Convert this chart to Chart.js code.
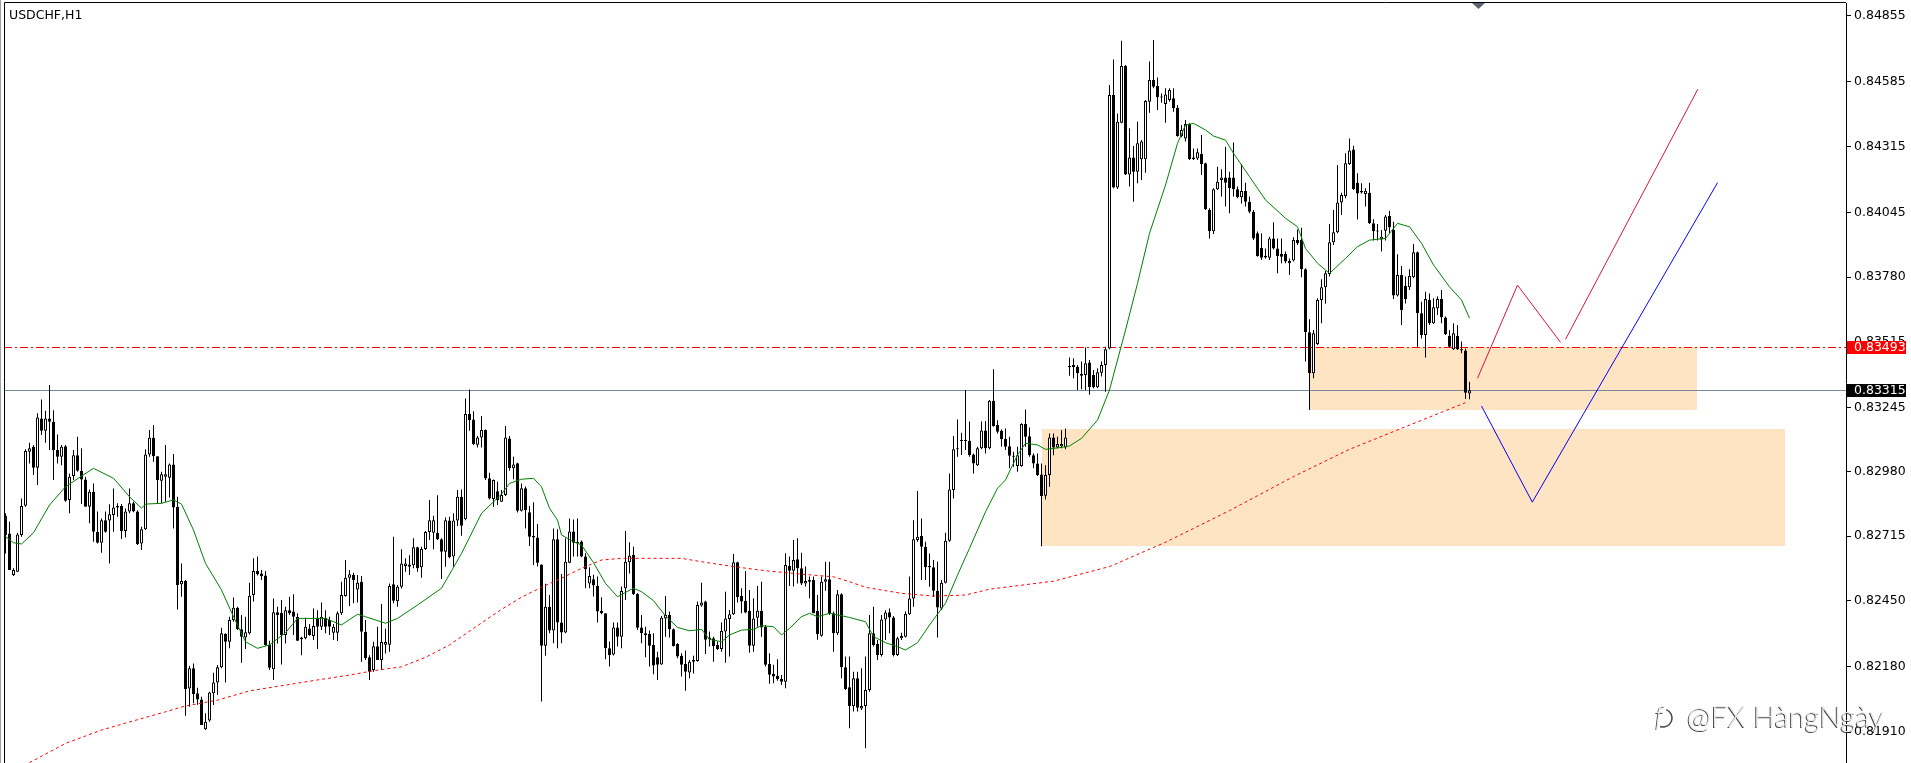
<!DOCTYPE html>
<html>
<head>
<meta charset="utf-8">
<title>USDCHF,H1</title>
<script src="https://cdn.jsdelivr.net/npm/chart.js@4/dist/chart.umd.min.js"></script>
<style>
  html, body { margin: 0; padding: 0; background: #fff; overflow: hidden; }
  canvas { display: block; }
</style>
</head>
<body>
<canvas id="myChart" width="1911" height="763"></canvas>
<script>
// H1 bars, oldest first (one entry per bar)
const opens = [
  0.82799,0.82726,0.82555,0.82569,0.82720,0.82840,0.83062,0.83083,0.82996,0.83199,
  0.83148,0.83199,0.83185,0.83069,0.83042,0.83085,0.82864,0.82962,0.83048,0.82984,
  0.82948,0.82836,0.82898,0.82733,0.82688,0.82781,0.82779,0.82802,0.82833,0.82839,
  0.82736,0.82816,0.82850,0.82816,0.82685,0.82744,0.83051,0.83120,0.83044,0.82943,
  0.82959,0.82955,0.83010,0.82836,0.82517,0.82531,0.82089,0.82172,0.82069,0.82044,
  0.81921,0.81957,0.82069,0.82114,0.82176,0.82313,0.82281,0.82370,0.82421,0.82332,
  0.82299,0.82316,0.82473,0.82572,0.82562,0.82553,0.82268,0.82168,0.82402,0.82400,
  0.82309,0.82411,0.82405,0.82384,0.82291,0.82295,0.82336,0.82305,0.82380,0.82343,
  0.82380,0.82370,0.82318,0.82318,0.82398,0.82469,0.82544,0.82555,0.82496,0.82528,
  0.82322,0.82217,0.82165,0.82263,0.82206,0.82269,0.82269,0.82517,0.82448,0.82507,
  0.82592,0.82599,0.82596,0.82669,0.82587,0.82662,0.82732,0.82729,0.82729,0.82702,
  0.82651,0.82779,0.82631,0.82779,0.82877,0.82785,0.83217,0.83195,0.83091,0.83121,
  0.83151,0.82953,0.82868,0.82900,0.82857,0.82884,0.83117,0.82994,0.83015,0.82820,
  0.82912,0.82813,0.82716,0.82710,0.82599,0.82265,0.82425,0.82327,0.82702,0.82360,
  0.82319,0.82606,0.82734,0.82691,0.82693,0.82631,0.82521,0.82538,0.82510,0.82408,
  0.82398,0.82254,0.82229,0.82340,0.82302,0.82501,0.82608,0.82638,0.82477,0.82340,
  0.82316,0.82313,0.82268,0.82217,0.82188,0.82377,0.82391,0.82332,0.82272,0.82223,
  0.82190,0.82155,0.82199,0.82202,0.82430,0.82446,0.82298,0.82295,0.82268,0.82251,
  0.82323,0.82375,0.82394,0.82608,0.82469,0.82450,0.82408,0.82265,0.82380,0.82408,
  0.82343,0.82190,0.82149,0.82141,0.82128,0.82117,0.82593,0.82573,0.82620,0.82583,
  0.82521,0.82535,0.82535,0.82408,0.82306,0.82528,0.82538,0.82398,0.82316,0.82476,
  0.82176,0.82094,0.82017,0.82131,0.82007,0.82017,0.82083,0.82316,0.82272,0.82227,
  0.82373,0.82402,0.82381,0.82227,0.82295,0.82302,0.82394,0.82459,0.82699,0.82716,
  0.82672,0.82592,0.82587,0.82491,0.82418,0.82524,0.82696,0.82905,0.83072,0.83106,
  0.83110,0.83107,0.83051,0.83007,0.83076,0.83149,0.83076,0.83272,0.83172,0.83148,
  0.83114,0.83085,0.83046,0.83003,0.83003,0.83176,0.83126,0.83048,0.83014,0.82969,
  0.82881,0.82966,0.83121,0.83080,0.83085,0.83080,0.83415,0.83419,0.83412,0.83382,
  0.83378,0.83429,0.83378,0.83327,0.83387,0.83419,0.83487,0.84529,0.84148,0.84415,
  0.84648,0.84202,0.84272,0.84213,0.84264,0.84264,0.84501,0.84590,0.84566,0.84522,
  0.84492,0.84508,0.84515,0.84476,0.84360,0.84350,0.84409,0.84272,0.84268,0.84286,
  0.84248,0.84056,0.83969,0.84141,0.84179,0.84189,0.84189,0.84189,0.84141,0.84108,
  0.84134,0.84090,0.84049,0.83960,0.83901,0.83867,0.83860,0.83939,0.83898,0.83875,
  0.83875,0.83837,0.83848,0.83933,0.83933,0.83812,0.83553,0.83385,0.83505,0.83686,
  0.83738,0.83793,0.83923,0.83964,0.84087,0.84113,0.84245,0.84305,0.84168,0.84134,
  0.84122,0.84127,0.84001,0.83971,0.83935,0.83971,0.84031,0.83974,0.83704,0.83789,
  0.83744,0.83738,0.83779,0.83882,0.83631,0.83542,0.83686,0.83590,0.83652,0.83690,
  0.83614,0.83539,0.83483,0.83539,0.83483,0.83478,0.83302
];
const highs = [
  0.82809,0.82774,0.82583,0.82729,0.82870,0.83072,0.83099,0.83090,0.83220,0.83277,
  0.83231,0.83336,0.83233,0.83133,0.83090,0.83090,0.82973,0.83069,0.83124,0.83076,
  0.82959,0.82907,0.82932,0.82816,0.82788,0.82816,0.82846,0.82911,0.82850,0.82847,
  0.82829,0.82911,0.82857,0.82822,0.82754,0.83072,0.83151,0.83172,0.83044,0.82980,
  0.83090,0.83014,0.83053,0.82877,0.82603,0.82535,0.82181,0.82192,0.82092,0.82055,
  0.81987,0.82076,0.82154,0.82185,0.82339,0.82316,0.82384,0.82463,0.82425,0.82391,
  0.82384,0.82524,0.82624,0.82631,0.82576,0.82572,0.82285,0.82459,0.82425,0.82453,
  0.82425,0.82466,0.82476,0.82398,0.82302,0.82380,0.82354,0.82418,0.82411,0.82442,
  0.82411,0.82384,0.82354,0.82405,0.82528,0.82617,0.82576,0.82565,0.82555,0.82551,
  0.82370,0.82226,0.82281,0.82343,0.82436,0.82336,0.82521,0.82713,0.82514,0.82661,
  0.82624,0.82637,0.82706,0.82672,0.82672,0.82736,0.82864,0.82799,0.82883,0.82706,
  0.82792,0.82795,0.82809,0.82905,0.82907,0.83281,0.83318,0.83229,0.83127,0.83209,
  0.83154,0.82976,0.82948,0.82939,0.82905,0.83168,0.83127,0.83042,0.83017,0.82932,
  0.82919,0.82839,0.82854,0.82765,0.82599,0.82519,0.82473,0.82747,0.82743,0.82560,
  0.82706,0.82788,0.82784,0.82788,0.82697,0.82645,0.82587,0.82556,0.82549,0.82464,
  0.82398,0.82282,0.82360,0.82360,0.82508,0.82736,0.82690,0.82672,0.82480,0.82391,
  0.82343,0.82327,0.82316,0.82240,0.82387,0.82469,0.82405,0.82336,0.82275,0.82234,
  0.82245,0.82206,0.82223,0.82446,0.82524,0.82450,0.82323,0.82302,0.82282,0.82360,
  0.82487,0.82412,0.82642,0.82610,0.82501,0.82572,0.82494,0.82460,0.82510,0.82528,
  0.82350,0.82234,0.82186,0.82209,0.82144,0.82645,0.82631,0.82699,0.82706,0.82647,
  0.82590,0.82549,0.82549,0.82473,0.82549,0.82610,0.82610,0.82405,0.82494,0.82480,
  0.82220,0.82220,0.82158,0.82158,0.82172,0.82220,0.82391,0.82425,0.82288,0.82391,
  0.82411,0.82418,0.82387,0.82302,0.82318,0.82405,0.82549,0.82781,0.82901,0.82788,
  0.82692,0.82644,0.82617,0.82610,0.82535,0.82729,0.82973,0.83127,0.83195,0.83140,
  0.83316,0.83186,0.83055,0.83083,0.83186,0.83188,0.83275,0.83401,0.83192,0.83154,
  0.83158,0.83124,0.83062,0.83083,0.83179,0.83236,0.83162,0.83055,0.83055,0.83014,
  0.83007,0.83137,0.83137,0.83124,0.83151,0.83158,0.83450,0.83446,0.83419,0.83433,
  0.83491,0.83439,0.83398,0.83405,0.83433,0.83494,0.84570,0.84675,0.84453,0.84752,
  0.84652,0.84392,0.84319,0.84419,0.84344,0.84508,0.84666,0.84755,0.84601,0.84535,
  0.84556,0.84556,0.84556,0.84487,0.84405,0.84426,0.84412,0.84309,0.84309,0.84364,
  0.84250,0.84063,0.84145,0.84234,0.84223,0.84316,0.84213,0.84333,0.84152,0.84245,
  0.84168,0.84111,0.84056,0.83967,0.83960,0.83898,0.83946,0.84005,0.83939,0.83939,
  0.83885,0.83857,0.83944,0.83976,0.83983,0.83816,0.83607,0.83563,0.83693,0.83771,
  0.83805,0.83998,0.84056,0.84241,0.84127,0.84289,0.84350,0.84320,0.84207,0.84166,
  0.84145,0.84168,0.84018,0.83998,0.83974,0.84035,0.84053,0.84008,0.83874,0.83826,
  0.83782,0.83812,0.83916,0.83885,0.83679,0.83720,0.83713,0.83693,0.83700,0.83727,
  0.83618,0.83563,0.83590,0.83583,0.83515,0.83487,0.83350
];
const lows = [
  0.82644,0.82576,0.82551,0.82569,0.82713,0.82836,0.83014,0.82966,0.82925,0.83131,
  0.83099,0.83069,0.82946,0.83014,0.83007,0.82857,0.82809,0.82946,0.82980,0.82847,
  0.82836,0.82768,0.82692,0.82685,0.82647,0.82729,0.82603,0.82733,0.82795,0.82703,
  0.82710,0.82809,0.82813,0.82679,0.82658,0.82740,0.83042,0.83021,0.82850,0.82850,
  0.82857,0.82874,0.82747,0.82414,0.82466,0.81977,0.82014,0.82028,0.82022,0.81939,
  0.81918,0.81952,0.82021,0.82062,0.82172,0.82114,0.82254,0.82363,0.82329,0.82195,
  0.82251,0.82311,0.82446,0.82553,0.82535,0.82265,0.82165,0.82124,0.82274,0.82188,
  0.82274,0.82391,0.82309,0.82284,0.82226,0.82291,0.82306,0.82288,0.82251,0.82329,
  0.82316,0.82309,0.82288,0.82284,0.82391,0.82466,0.82428,0.82439,0.82442,0.82199,
  0.82206,0.82124,0.82158,0.82206,0.82165,0.82233,0.82240,0.82439,0.82425,0.82500,
  0.82569,0.82555,0.82583,0.82569,0.82544,0.82658,0.82699,0.82661,0.82699,0.82539,
  0.82589,0.82624,0.82589,0.82757,0.82717,0.82781,0.83148,0.83090,0.83080,0.83080,
  0.82946,0.82866,0.82836,0.82843,0.82857,0.82880,0.82984,0.82949,0.82812,0.82816,
  0.82747,0.82675,0.82597,0.82590,0.82035,0.82223,0.82316,0.82275,0.82254,0.82275,
  0.82316,0.82604,0.82631,0.82631,0.82628,0.82501,0.82501,0.82467,0.82360,0.82394,
  0.82209,0.82179,0.82225,0.82261,0.82254,0.82453,0.82562,0.82473,0.82329,0.82275,
  0.82217,0.82179,0.82147,0.82124,0.82186,0.82302,0.82299,0.82261,0.82213,0.82138,
  0.82080,0.82131,0.82151,0.82199,0.82425,0.82231,0.82261,0.82199,0.82247,0.82240,
  0.82195,0.82220,0.82391,0.82442,0.82398,0.82398,0.82236,0.82240,0.82343,0.82302,
  0.82179,0.82108,0.82110,0.82121,0.82103,0.82090,0.82510,0.82508,0.82521,0.82514,
  0.82508,0.82460,0.82398,0.82289,0.82302,0.82491,0.82391,0.82240,0.82309,0.82131,
  0.82083,0.81925,0.81994,0.81994,0.82000,0.81843,0.82076,0.82261,0.82206,0.82220,
  0.82288,0.82316,0.82220,0.82222,0.82288,0.82299,0.82391,0.82425,0.82692,0.82535,
  0.82535,0.82507,0.82466,0.82299,0.82412,0.82521,0.82692,0.82870,0.83042,0.83049,
  0.83069,0.83042,0.82973,0.83003,0.83072,0.83055,0.83072,0.83165,0.83137,0.83083,
  0.83069,0.82994,0.83000,0.82980,0.83000,0.83083,0.83042,0.82994,0.82962,0.82674,
  0.82866,0.82918,0.83048,0.83076,0.83076,0.83072,0.83374,0.83364,0.83316,0.83319,
  0.83316,0.83296,0.83323,0.83323,0.83371,0.83309,0.83483,0.84145,0.84142,0.84412,
  0.84200,0.84152,0.84090,0.84166,0.84179,0.84209,0.84456,0.84556,0.84467,0.84497,
  0.84415,0.84501,0.84460,0.84357,0.84355,0.84337,0.84261,0.84261,0.84261,0.84200,
  0.84056,0.83939,0.83957,0.84138,0.84111,0.84070,0.84042,0.84111,0.84104,0.84083,
  0.84070,0.84042,0.83933,0.83864,0.83850,0.83857,0.83850,0.83894,0.83796,0.83837,
  0.83837,0.83789,0.83844,0.83912,0.83779,0.83433,0.83234,0.83364,0.83501,0.83590,
  0.83670,0.83782,0.83912,0.83960,0.84035,0.84104,0.84241,0.84138,0.84017,0.84124,
  0.84070,0.83998,0.83930,0.83930,0.83885,0.83930,0.83960,0.83690,0.83700,0.83583,
  0.83672,0.83727,0.83775,0.83494,0.83528,0.83450,0.83583,0.83587,0.83624,0.83590,
  0.83542,0.83491,0.83480,0.83480,0.83467,0.83279,0.83278
];
const closes = [
  0.82720,0.82576,0.82576,0.82722,0.82839,0.83065,0.83076,0.82996,0.83203,0.83148,
  0.83199,0.83185,0.83069,0.83042,0.83083,0.82861,0.82959,0.83048,0.82984,0.82948,
  0.82836,0.82898,0.82733,0.82688,0.82781,0.82733,0.82805,0.82833,0.82839,0.82736,
  0.82816,0.82850,0.82816,0.82683,0.82744,0.83051,0.83120,0.83044,0.82946,0.82970,
  0.82970,0.83010,0.82833,0.82514,0.82531,0.82087,0.82172,0.82066,0.82044,0.81939,
  0.81952,0.82072,0.82114,0.82176,0.82316,0.82281,0.82370,0.82421,0.82332,0.82302,
  0.82320,0.82470,0.82572,0.82559,0.82551,0.82268,0.82174,0.82402,0.82391,0.82309,
  0.82411,0.82398,0.82384,0.82285,0.82299,0.82343,0.82309,0.82346,0.82343,0.82384,
  0.82343,0.82343,0.82343,0.82398,0.82473,0.82544,0.82558,0.82535,0.82524,0.82322,
  0.82213,0.82158,0.82263,0.82206,0.82280,0.82280,0.82510,0.82450,0.82507,0.82603,
  0.82603,0.82589,0.82669,0.82583,0.82662,0.82732,0.82781,0.82781,0.82702,0.82651,
  0.82781,0.82628,0.82779,0.82877,0.82758,0.83217,0.83192,0.83094,0.83121,0.83151,
  0.82953,0.82870,0.82946,0.82864,0.82884,0.83121,0.82994,0.83010,0.82820,0.82912,
  0.82823,0.82713,0.82710,0.82606,0.82265,0.82425,0.82327,0.82702,0.82360,0.82319,
  0.82610,0.82734,0.82688,0.82686,0.82631,0.82579,0.82551,0.82512,0.82405,0.82398,
  0.82254,0.82227,0.82340,0.82302,0.82490,0.82610,0.82635,0.82477,0.82339,0.82316,
  0.82309,0.82265,0.82183,0.82186,0.82380,0.82391,0.82332,0.82264,0.82220,0.82186,
  0.82158,0.82199,0.82206,0.82432,0.82442,0.82289,0.82291,0.82264,0.82251,0.82325,
  0.82377,0.82394,0.82608,0.82464,0.82446,0.82401,0.82265,0.82377,0.82408,0.82340,
  0.82186,0.82145,0.82138,0.82127,0.82117,0.82597,0.82573,0.82617,0.82583,0.82521,
  0.82531,0.82528,0.82398,0.82313,0.82528,0.82538,0.82398,0.82316,0.82476,0.82176,
  0.82087,0.82017,0.82131,0.82010,0.82017,0.82083,0.82316,0.82268,0.82227,0.82373,
  0.82401,0.82381,0.82227,0.82295,0.82305,0.82395,0.82459,0.82702,0.82713,0.82672,
  0.82587,0.82587,0.82491,0.82422,0.82524,0.82696,0.82907,0.83072,0.83076,0.83110,
  0.83106,0.83049,0.83014,0.83076,0.83149,0.83076,0.83272,0.83168,0.83144,0.83114,
  0.83083,0.83046,0.83042,0.83048,0.83176,0.83124,0.83048,0.83014,0.82966,0.82880,
  0.82966,0.83121,0.83080,0.83094,0.83094,0.83121,0.83409,0.83409,0.83385,0.83374,
  0.83426,0.83327,0.83327,0.83389,0.83419,0.83483,0.84529,0.84148,0.84419,0.84648,
  0.84202,0.84272,0.84213,0.84330,0.84337,0.84504,0.84590,0.84563,0.84519,0.84518,
  0.84531,0.84549,0.84474,0.84360,0.84385,0.84409,0.84266,0.84264,0.84293,0.84245,
  0.84059,0.83969,0.84141,0.84172,0.84189,0.84168,0.84145,0.84141,0.84108,0.84134,
  0.84090,0.84049,0.83939,0.83867,0.83860,0.83861,0.83939,0.83898,0.83867,0.83864,
  0.83844,0.83846,0.83933,0.83919,0.83812,0.83553,0.83385,0.83549,0.83686,0.83738,
  0.83796,0.83923,0.83964,0.84087,0.84118,0.84248,0.84300,0.84142,0.84124,0.84128,
  0.84135,0.84001,0.83969,0.83967,0.83946,0.84029,0.83985,0.83704,0.83789,0.83645,
  0.83690,0.83785,0.83882,0.83631,0.83542,0.83690,0.83590,0.83656,0.83690,0.83615,
  0.83545,0.83494,0.83549,0.83483,0.83478,0.83305,0.83315
];

// moving averages: bar index and price
const maFastIdx = [0,2,4,7,11,15,19,22,27,31,34,35,39,42,44,47,50,54,57,60,63,66,70,73,78,80,84,88,90,95,
  98,103,109,114,119,124,126,129,132,134,136,138,139,142,144,147,150,153,155,157,159,162,165,168,171,174,176,179,181,184,
  187,189,192,194,196,199,201,203,206,211,215,217,220,223,225,228,231,235,238,241,245,248,250,253,255,258,260,264,266,269,
  273,276,280,283,286,290,293,295,297,300,302,305,307,311,315,320,323,325,328,331,335,338,341,345,348,351,354,357,361,364,366];
const maFastVal = [0.82713,0.82688,0.82683,0.82729,0.82843,0.82918,0.82962,0.82994,0.82953,0.82877,
  0.82830,0.82847,0.82850,0.82864,0.82847,0.82740,0.82603,0.82494,0.82384,0.82281,
  0.82254,0.82268,0.82318,0.82377,0.82377,0.82377,0.82350,0.82394,0.82384,0.82357,
  0.82377,0.82432,0.82501,0.82644,0.82809,0.82888,0.82932,0.82949,0.82953,0.82918,
  0.82830,0.82781,0.82720,0.82692,0.82679,0.82606,0.82521,0.82466,0.82484,0.82501,
  0.82487,0.82450,0.82387,0.82340,0.82326,0.82332,0.82291,0.82281,0.82309,0.82329,
  0.82332,0.82347,0.82343,0.82309,0.82336,0.82384,0.82398,0.82384,0.82398,0.82381,
  0.82363,0.82302,0.82277,0.82261,0.82247,0.82277,0.82350,0.82439,0.82555,0.82665,
  0.82815,0.82912,0.82946,0.83049,0.83097,0.83090,0.83072,0.83080,0.83086,0.83117,
  0.83192,0.83316,0.83562,0.83754,0.83960,0.84158,0.84330,0.84405,0.84412,0.84385,
  0.84360,0.84343,0.84289,0.84193,0.84097,0.84022,0.83987,0.83898,0.83837,0.83795,
  0.83857,0.83905,0.83932,0.83939,0.84001,0.83987,0.83919,0.83830,0.83740,0.83686,
  0.83611];
const maSlowIdx = [6,15,24,32,40,45,53,61,70,78,86,92,99,105,111,117,124,129,134,139,144,149,154,161,169,174,182,190,199,207,
  211,215,224,232,240,246,262,276,290,306,322,336,350,365];
const maSlowVal = [0.81784,0.81863,0.81918,0.81956,0.81993,0.82017,0.82041,0.82079,0.82103,0.82124,
  0.82144,0.82162,0.82178,0.82217,0.82268,0.82336,0.82414,0.82464,0.82505,0.82542,
  0.82583,0.82617,0.82624,0.82624,0.82624,0.82610,0.82590,0.82573,0.82559,0.82548,
  0.82528,0.82505,0.82480,0.82469,0.82473,0.82497,0.82530,0.82590,0.82690,0.82820,
  0.82960,0.83072,0.83165,0.83264];

// price scale labels
const priceTicks = [0.84855,0.84585,0.84315,0.84045,0.83780,0.83515,0.83245,0.82980,0.82715,0.82450,0.82180,0.81910];

// objects drawn on the chart
const levelPrice = 0.83493;
const bidPrice = 0.83315;
const zoneFrom = [326, 259.1];
const zoneTo = [422.9, 444.9];
const zoneLow = [0.83234, 0.82675];
const zoneHigh = [0.83493, 0.83155];
const redLegIdx = [368, 378, 388.75];
const redLegVal = [0.83364, 0.83747, 0.83512];
const redRiseIdx = [390, 423.1];
const redRiseVal = [0.83524, 0.84553];
const blueIdx = [369, 381.7, 428];
const blueVal = [0.83250, 0.82855, 0.84168];

const AXIS_FONT = '12.5px "DejaVu Sans"';

function pts(xs, ys) {
  return xs.map((x, k) => ({x: x, y: ys[k]}));
}

const wickData = opens.map((o, i) => ({x: i, y: [lows[i], highs[i]]}));
const bodyData = opens.map((o, i) => ({x: i, y: [o, closes[i]]}));
const bodyFill = opens.map((o, i) => closes[i] >= o ? '#ffffff' : '#000000');

const overlay = {
  id: 'overlay',
  beforeDatasetsDraw(chart) {
    const {ctx, chartArea: a, scales: {x, y}} = chart;
    ctx.save();
    ctx.beginPath();
    ctx.rect(a.left, a.top, a.right - a.left, a.bottom - a.top);
    ctx.clip();
    // zones
    ctx.fillStyle = '#ffe4c4';
    for (let k = 0; k < zoneFrom.length; k++) {
      const x1 = Math.round(x.getPixelForValue(zoneFrom[k]));
      const x2 = Math.round(x.getPixelForValue(zoneTo[k]));
      const y1 = Math.round(y.getPixelForValue(zoneHigh[k]));
      const y2 = Math.round(y.getPixelForValue(zoneLow[k]));
      ctx.fillRect(x1, y1, x2 - x1, y2 - y1);
    }
    // bid line
    let yy = Math.round(y.getPixelForValue(bidPrice)) + 0.5;
    ctx.strokeStyle = '#778899';
    ctx.lineWidth = 1;
    ctx.beginPath(); ctx.moveTo(a.left, yy); ctx.lineTo(a.right, yy); ctx.stroke();
    // level line, dash-dot
    yy = Math.round(y.getPixelForValue(levelPrice)) + 0.5;
    ctx.strokeStyle = '#ff0000';
    ctx.setLineDash([8, 3, 2, 3]);
    ctx.beginPath(); ctx.moveTo(a.left, yy); ctx.lineTo(a.right, yy); ctx.stroke();
    ctx.restore();
  },
  afterDraw(chart) {
    const {ctx, chartArea: a, scales: {y}} = chart;
    ctx.save();
    // price tags on the scale
    const tags = [[levelPrice, '#ff0000'], [bidPrice, '#000000']];
    ctx.font = AXIS_FONT;
    ctx.textBaseline = 'middle';
    tags.forEach(t => {
      const yc = Math.round(y.getPixelForValue(t[0]));
      ctx.fillStyle = t[1];
      ctx.fillRect(a.right + 1, yc - 6, 59, 13);
      ctx.fillStyle = '#ffffff';
      ctx.fillText(t[0].toFixed(5), a.right + 8, yc + 1);
    });
    // frame
    ctx.strokeStyle = '#000';
    ctx.lineWidth = 1;
    ctx.beginPath();
    ctx.moveTo(4.5, 763); ctx.lineTo(4.5, 2.5); ctx.lineTo(a.right, 2.5);
    ctx.stroke();
    ctx.strokeStyle = '#a0a0a0';
    ctx.beginPath(); ctx.moveTo(0.5, 0); ctx.lineTo(0.5, 763); ctx.stroke();
    // chart shift marker
    ctx.fillStyle = '#5c6470';
    ctx.beginPath(); ctx.moveTo(1472, 3); ctx.lineTo(1485, 3); ctx.lineTo(1478.5, 9); ctx.closePath(); ctx.fill();
    // symbol name
    ctx.fillStyle = '#000';
    ctx.textBaseline = 'alphabetic';
    ctx.font = AXIS_FONT;
    ctx.fillText('USDCHF,H1', 9, 19);
    // watermark
    ctx.font = '300 29px Lato';
    ctx.fillStyle = 'rgba(40,40,40,0.85)';
    ctx.fillText('@FX HàngNgày', 1686, 728);
    ctx.fillStyle = '#ececec';
    ctx.fillText('@FX HàngNgày', 1687, 727);
    ctx.font = 'italic 300 27px Lato';
    ctx.fillStyle = 'rgba(40,40,40,0.85)';
    ctx.fillText('f', 1654, 727);
    ctx.fillStyle = '#ececec';
    ctx.fillText('f', 1655, 726);
    ctx.lineWidth = 1.5;
    ctx.strokeStyle = 'rgba(40,40,40,0.85)';
    ctx.beginPath(); ctx.arc(1663, 718, 9, -1.2, 1.9); ctx.stroke();
    ctx.restore();
  }
};

const config = {
  type: 'bar',
  data: {
    datasets: [
      { type: 'line', label: 'MA slow', data: pts(maSlowIdx, maSlowVal), borderColor: '#ff0000', borderWidth: 1,
        borderDash: [3, 3], pointRadius: 0, order: 0 },
      { type: 'line', label: 'MA fast', data: pts(maFastIdx, maFastVal), borderColor: '#008000', borderWidth: 1,
        pointRadius: 0, order: 0 },
      { type: 'line', label: 'red leg', data: pts(redLegIdx, redLegVal), borderColor: '#dc143c', borderWidth: 1,
        pointRadius: 0, order: 0 },
      { type: 'line', label: 'red rise', data: pts(redRiseIdx, redRiseVal), borderColor: '#dc143c', borderWidth: 1,
        pointRadius: 0, order: 0 },
      { type: 'line', label: 'blue path', data: pts(blueIdx, blueVal), borderColor: '#0000ff', borderWidth: 1,
        pointRadius: 0, order: 0 },
      { label: 'wicks', data: wickData, backgroundColor: '#000000', barThickness: 1, maxBarThickness: 1,
        grouped: false, minBarLength: 1, inflateAmount: 0, order: 2 },
      { label: 'bodies', data: bodyData, backgroundColor: bodyFill, borderColor: '#000000', borderWidth: 1,
        borderSkipped: false, barThickness: 3, maxBarThickness: 3, grouped: false, minBarLength: 1,
        inflateAmount: 0, order: 1 }
    ]
  },
  options: {
    responsive: false,
    animation: false,
    events: [],
    layout: { padding: { left: 4, top: 3, right: 0, bottom: 0 } },
    plugins: {
      legend: { display: false },
      tooltip: { enabled: false },
      title: { display: false }
    },
    scales: {
      x: { type: 'linear', min: -0.375, max: 460.125, display: false, offset: false },
      y: {
        type: 'linear',
        position: 'right',
        min: 0.817826,
        max: 0.849068,
        afterBuildTicks: s => { s.ticks = priceTicks.map(v => ({value: v})); },
        afterFit: s => { s.width = 65; s.paddingTop = 0; s.paddingBottom = 0; },
        grid: { drawOnChartArea: false, drawTicks: true, tickLength: 5, color: '#000000' },
        border: { display: true, color: '#000000', width: 1 },
        ticks: {
          padding: 3,
          color: '#000000',
          autoSkip: false,
          font: { family: 'DejaVu Sans', size: 12.5 },
          callback: v => Number(v).toFixed(5)
        }
      }
    }
  },
  plugins: [overlay]
};

const ctx = document.getElementById('myChart').getContext('2d');
const myChart = new Chart(ctx, config);
</script>
</body>
